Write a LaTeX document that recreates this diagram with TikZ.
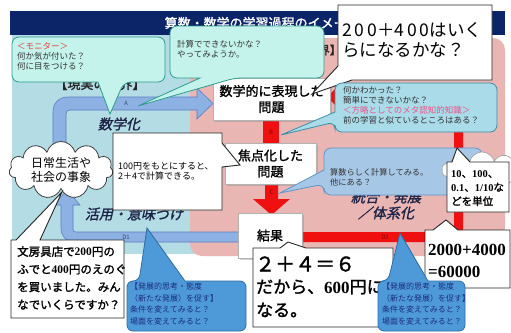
\documentclass[tikz,border=0pt]{standalone}
\usepackage{fontspec}
\usetikzlibrary{shapes.symbols,shadows}
\newfontfamily\jp{Noto Sans CJK JP}
\newfontfamily\jpb[FakeBold=1.6]{Noto Sans CJK JP}
\newfontfamily\jpbi[FakeBold=1.6,FakeSlant=0.22]{Noto Sans CJK JP}
\newfontfamily\srf{Liberation Serif}
\newcommand\sd[1]{{\srf\bfseries #1}}
\definecolor{navy}{HTML}{0C2468}
\definecolor{realblue}{HTML}{B3DCE4}
\definecolor{mathpink}{HTML}{E9B6B4}
\definecolor{arrowfill}{HTML}{8DB1E3}
\definecolor{arrowedge}{HTML}{5A7DBF}
\definecolor{redbar}{HTML}{F01010}
\definecolor{aquafill}{HTML}{C4F3EC}
\definecolor{aquaedge}{HTML}{2E9C8C}
\definecolor{cyanfill}{HTML}{A9DBE8}
\definecolor{cyanedge}{HTML}{3C8FA8}
\definecolor{skyfill}{HTML}{A6C8E6}
\definecolor{skyedge}{HTML}{5F95C4}
\definecolor{bluefill}{HTML}{4E9AD8}
\definecolor{blueedge}{HTML}{2D6BA6}
\definecolor{bluetext}{HTML}{1C2B80}
\definecolor{monred}{HTML}{E8413A}
\definecolor{metapink}{HTML}{F0508A}
\definecolor{inktext}{HTML}{333333}
\definecolor{labelnavy}{HTML}{1E2448}
\begin{document}
\begin{tikzpicture}[x=1pt,y=-1pt,
  arrowstyle/.style={fill=arrowfill,draw=arrowedge,line width=0.6pt},
  probbox/.style={draw=gray!60,line width=0.8pt,fill=white,inner sep=0pt,align=center,
     drop shadow={shadow xshift=1.5pt,shadow yshift=-1.5pt,opacity=0.35},
     font=\jpb\fontsize{13}{16}\selectfont},
  aquacall/.style={fill=aquafill,draw=aquaedge,line width=0.8pt},
  cyancall/.style={fill=cyanfill,draw=cyanedge,line width=0.8pt},
  skycall/.style={fill=skyfill,draw=skyedge,line width=0.8pt},
  bluecall/.style={fill=bluefill,draw=blueedge,line width=0.8pt},
  whitecall/.style={fill=white,draw=black!85,line width=0.9pt},
  smalltxt/.style={inner sep=0pt,anchor=north west,align=left,text=inktext,
     font=\jp\fontsize{8.5}{10}\selectfont},
  bluetxt/.style={inner sep=0pt,anchor=north west,align=left,text=bluetext,
     font=\jp\fontsize{8}{11.5}\selectfont},
  italiclab/.style={inner sep=0pt,text=labelnavy,font=\jpbi\fontsize{14}{16}\selectfont},
  tinylab/.style={inner sep=0pt,font=\jp\fontsize{6}{7}\selectfont},
  heading/.style={inner sep=0pt,text=black!85,font=\jpb\fontsize{13}{15}\selectfont}]
\useasboundingbox (0,0) rectangle (511,332);
\fill[white] (0,0) rectangle (511,332);
% title bar and panels
\fill[navy] (10,11) rectangle (505,35);
\node[inner sep=0pt,text=white,font=\jpb\fontsize{13}{15}\selectfont] (title) at (262,23) {算数・数学の学習過程のイメージ};
\fill[realblue] (12,35) rectangle (196,254);
\fill[mathpink,rounded corners=12pt] (190,38) rectangle (505,256);
\node[heading] (h1) at (100,84) {【現実の世界】};
\node[heading,font=\jpb\fontsize{11.5}{13}\selectfont] (h2) at (301,50) {【数学の世界】};
% blue arrows
\filldraw[arrowstyle] (53,150) -- (53,112) .. controls (53,103) and (59,97) .. (68,97) -- (197,97) -- (197,88) -- (213,103.5) -- (197,119) -- (197,110) -- (70,110) .. controls (67.5,110) and (66,111.5) .. (66,114) -- (66,150) -- cycle;
\filldraw[arrowstyle] (240,232) -- (76,232) .. controls (74,232) and (73,231) .. (73,229) -- (73,205) -- (80,205) -- (67,190) -- (54,205) -- (61,205) -- (61,228) .. controls (61,236) and (66,242) .. (74,242) -- (240,242) -- cycle;
\node[tinylab,text=arrowedge!60!black] (labA) at (126,103.5) {A};
\node[tinylab,text=arrowedge!60!black] (labD1) at (126,237) {D1};
% red arrows
\fill[redbar] (300,232) -- (454,232) -- (454,102) -- (337,102) -- (337,107) -- (327,97) -- (337,87) -- (337,92) -- (463,92) -- (463,242) -- (300,242) -- cycle;
\fill[redbar] (263,119) rectangle (279,144);
\fill[redbar] (265,183) -- (278,183) -- (278,199) -- (290,199) -- (271.5,215) -- (253,199) -- (265,199) -- cycle;
\node[tinylab,text=red!55!black] (labB) at (271,132) {B};
\node[tinylab,text=red!55!black] (labC) at (271.5,192) {C};
\node[tinylab,text=red!55!black] (labD2) at (385,237) {D2};
% problem boxes
\node[probbox,minimum width=117pt,minimum height=42pt] (b1) at (271.5,99) {数学的に表現した\\問題};
\node[probbox,minimum width=91pt,minimum height=41pt] (b2) at (270.5,163.5) {焦点化した\\問題};
\node[probbox,minimum width=64pt,minimum height=45pt] (b3) at (270,235.5) {結果};
% italic labels
\node[italiclab] (l1) at (119,124) {数学化};
\node[italiclab] (l2) at (134,214) {活用・意味づけ};
\node[italiclab,align=center,font=\jpbi\fontsize{14}{16}\selectfont] (l3) at (386,205) {統合・発展\\／体系化};
% callout 1 (monitor)
\draw[aquacall,rounded corners=7pt] (12,37) -- (165,37) -- (165,82) -- (124,82) [sharp corners] -- (110,114) -- (98,82) [rounded corners=7pt] -- (12,82) -- cycle;
\node[smalltxt] (t1) at (17,42.5) {{\color{monred}＜モニター＞}\\何か気が付いた？\\何に目をつける？};
% callout 2
\draw[aquacall,rounded corners=7pt] (170,26) -- (324,26) -- (324,78) -- (235,78) [sharp corners] -- (138,106) -- (200,78) [rounded corners=7pt] -- (170,78) -- cycle;
\node[smalltxt] (t2) at (177,40.5) {計算でできないかな？\\やってみようか。};
% callout 3
\draw[whitecall] (338,5) -- (492,5) -- (492,80) -- (352,80) -- (312,94) -- (338,66) -- cycle;
\node[inner sep=0pt,anchor=north west,align=left,font=\jp\fontsize{17.5}{20.5}\selectfont] (t3) at (342,22) {2\,0\,0＋4\,0\,0はいく\\らになるかな？};
% callout 4
\draw[cyancall,rounded corners=7pt] (335,83) -- (497,83) -- (497,132) -- (335,132) -- (335,122) [sharp corners] -- (281,135) -- (335,112) [rounded corners=7pt] -- cycle;
\node[smalltxt] (t4) at (343,86.5) {何かわかった？\\簡単にできないかな？\\{\color{metapink}＜方略としてのメタ認知的知識＞}\\前の学習と似ているところはある？};
% callout 5
\draw[skycall,rounded corners=7pt] (324,148) -- (482,148) -- (482,195) -- (324,195) -- (324,184) [sharp corners] -- (280,193) -- (324,170) [rounded corners=7pt] -- cycle;
\node[smalltxt,font=\jp\fontsize{8.2}{10}\selectfont] (t5) at (330,168) {算数らしく計算してみる。\\他にある？};
% cloud behind units callout
\node[cloud,draw=gray!70,fill=white,cloud puffs=10,aspect=2.2,minimum width=80pt,minimum height=36pt,line width=0.7pt] (cl2) at (482,170) {};
% callout 10 (units)
\draw[whitecall] (447,162) -- (452,162) -- (457,148) -- (470,162) -- (509,162) -- (509,212) -- (447,212) -- cycle;
\node[inner sep=0pt,anchor=north west,align=left,font=\jpb\fontsize{10.5}{14}\selectfont] (t10) at (451,170) {\sd{10}、\sd{100}、\\\sd{0.1}、\sd{1/10}な\\どを単位};
% cloud (everyday life)
\node[cloud,draw=gray!50!black,fill=white,cloud puffs=11,aspect=2.1,minimum width=104pt,minimum height=46pt,line width=0.8pt,align=center,font=\jp\fontsize{12}{14}\selectfont,inner sep=0pt] (cloud) at (61,170) {日常生活や\\社会の事象};
% callout 7
\draw[whitecall] (113,133) -- (222,133) -- (222,143) -- (240,165) -- (222,167) -- (222,210) -- (113,210) -- cycle;
\node[smalltxt,text=black,font=\jp\fontsize{9}{10.5}\selectfont] (t7) at (118,162) {100円をもとにすると、\\2＋4で計算できる。};
% callout 8
\draw[whitecall] (11,240) -- (16,240) -- (62,192) -- (40,240) -- (124,240) -- (124,318) -- (11,318) -- cycle;
\node[inner sep=0pt,anchor=north west,align=left,font=\jpb\fontsize{11.5}{17.7}\selectfont] (t8) at (17,246) {文房具店で\sd{200}円の\\ふでと\sd{400}円のえのぐ\\を買いました。みん\\なでいくらですか？};
% callout 11
\draw[whitecall] (425,230) -- (433,230) -- (446,220) -- (458,230) -- (510,230) -- (510,288) -- (425,288) -- cycle;
\node[inner sep=0pt,anchor=north west,align=left,font=\srf\bfseries\fontsize{17}{22}\selectfont] (t11) at (428,244) {2000+4000\\=60000};
% callout 9
\draw[whitecall] (253,248) -- (280,248) -- (288,242) -- (306,248) -- (393,248) -- (393,327) -- (253,327) -- cycle;
\node[inner sep=0pt,anchor=west,font=\jpb\fontsize{20}{22}\selectfont] (t9a) at (255,264) {２＋４＝６};
\node[inner sep=0pt,anchor=west,font=\jpb\fontsize{17}{20}\selectfont] (t9b) at (256,287) {だから、\sd{600}円に};
\node[inner sep=0pt,anchor=west,font=\jpb\fontsize{17}{20}\selectfont] (t9c) at (256,310) {なる。};
% callout 12
\draw[bluecall,rounded corners=6pt] (127,281) -- (139,281) [sharp corners] -- (147,228) -- (185,281) [rounded corners=6pt] -- (246,281) -- (246,331) -- (127,331) -- cycle;
\node[bluetxt] (t12) at (130,283) {【発展的思考・態度\\（新たな発展）を促す】\\条件を変えてみると？\\場面を変えてみると？};
% callout 13
\draw[bluecall,rounded corners=6pt] (378,281) -- (388,281) [sharp corners] -- (400,233) -- (428,281) [rounded corners=6pt] -- (465,281) -- (465,331) -- (378,331) -- cycle;
\node[bluetxt] (t13) at (382,283) {【発展的思考・態度\\（新たな発展）を促す】\\条件を変えてみると？\\場面を変えてみると？};
\end{tikzpicture}
\end{document}
